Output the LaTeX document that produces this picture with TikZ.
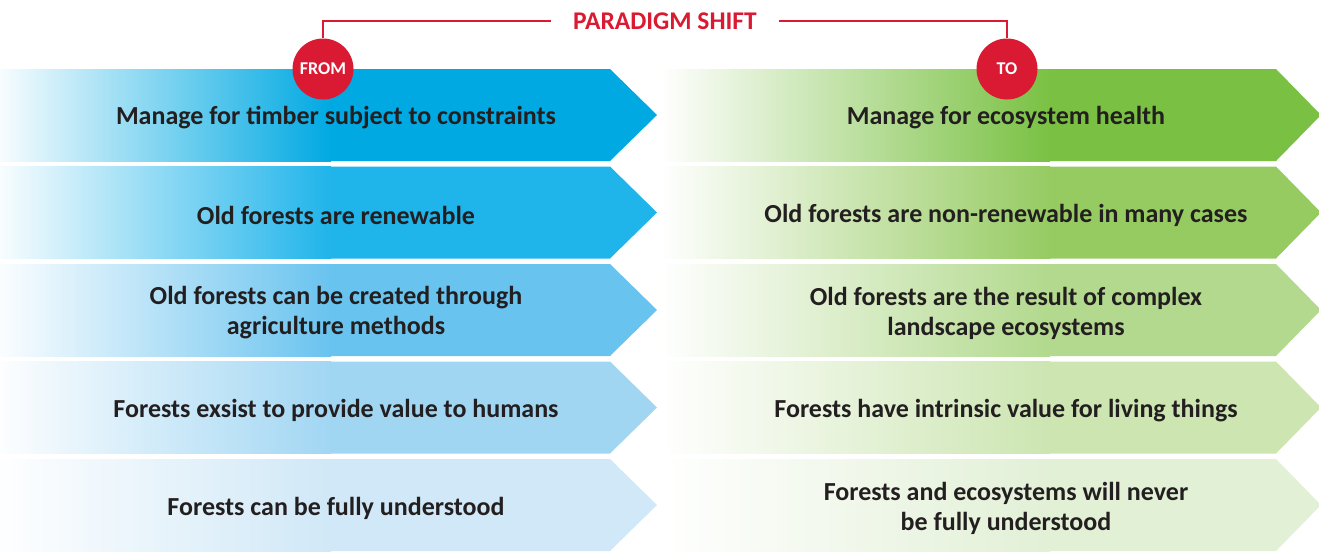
\documentclass[tikz,border=0pt]{standalone}
\usepackage{fontspec}
\setmainfont{Carlito}
\definecolor{txt}{HTML}{231F20}
\definecolor{pred}{HTML}{DA1A32}
\definecolor{lA}{HTML}{00A9E2}
\definecolor{lB}{HTML}{1FB4EA}
\definecolor{lC}{HTML}{69C3EF}
\definecolor{lD}{HTML}{A1D6F3}
\definecolor{lE}{HTML}{D0E8F7}
\definecolor{rA}{HTML}{7AC143}
\definecolor{rB}{HTML}{96CB62}
\definecolor{rC}{HTML}{B2D98D}
\definecolor{rD}{HTML}{CCE5B1}
\definecolor{rE}{HTML}{E2F0D6}
\begin{document}
\begin{tikzpicture}[x=1pt,y=-1pt,
  lbl/.style={font=\bfseries\fontsize{26}{30}\selectfont, text=txt, align=center, inner sep=0pt},
  badge/.style={circle, fill=pred, minimum size=61pt, inner sep=0pt, text=white, font=\bfseries\fontsize{18}{20}\selectfont},
  redline/.style={draw=pred, line width=2pt},
  titlestyle/.style={text=pred, font=\bfseries\fontsize{25.5}{28}\selectfont, inner xsep=22pt, inner ysep=0pt}]
\useasboundingbox (0,0) rectangle (1319,552);

\foreach \i/\lc/\rc/\lt/\rtx in {
  1/lA/rA/{Manage for timber subject to constraints}/{Manage for ecosystem health},
  2/lB/rB/{Old forests are renewable}/{Old forests are non-renewable in many cases},
  3/lC/rC/{Old forests can be created through\\agriculture methods}/{Old forests are the result of complex\\landscape ecosystems},
  4/lD/rD/{Forests exsist to provide value to humans}/{Forests have intrinsic value for living things},
  5/lE/rE/{Forests can be fully understood}/{Forests and ecosystems will never\\be fully understood}}{
  \pgfmathsetmacro{\t}{69+97.5*(\i-1)}
  \pgfmathsetmacro{\b}{\t+92}
  \pgfmathsetmacro{\m}{\t+46}
  \pgfmathsetmacro{\tm}{\m+3}
  % left arrow
  \fill[\lc] (0,\t) -- (610,\t) -- (657,\m) -- (610,\b) -- (0,\b) -- cycle;
  \shade[left color=\lc!3, right color=\lc] (0,\t) rectangle (331,\b);
  % right arrow
  \fill[\rc] (660,\t) -- (1276,\t) -- (1321,\m) -- (1276,\b) -- (660,\b) -- cycle;
  \shade[left color=white, right color=\rc] (660,\t) rectangle (1050,\b);
  \node[lbl] (l\i) at (336,\tm) {\lt};
  \node[lbl] (r\i) at (1006,\tm) {\rtx};
}

\node[titlestyle] (title) at (665,21) {PARADIGM SHIFT};
\node[badge] (from) at (323,69) {FROM};
\node[badge] (to) at (1007,69) {TO};
\draw[redline] (title.west) -| (from.north);
\draw[redline] (title.east) -| (to.north);
\end{tikzpicture}
\end{document}
